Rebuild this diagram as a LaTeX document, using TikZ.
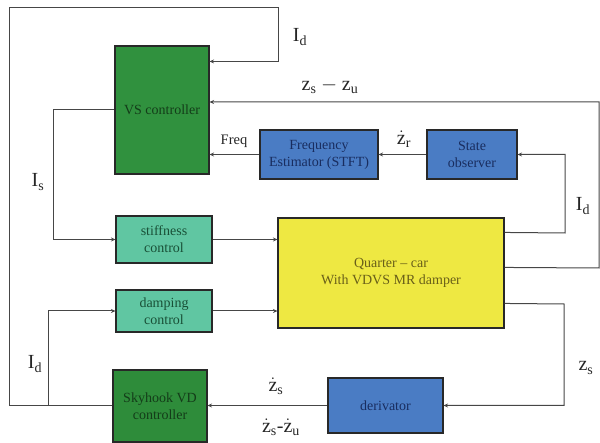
\documentclass[tikz,border=0pt]{standalone}
\usepackage{fontspec}
\setmainfont{Liberation Serif}
\usetikzlibrary{arrows.meta,calc}
\definecolor{vsgreen}{RGB}{48,145,62}
\definecolor{skygreen}{RGB}{46,140,58}
\definecolor{estblue}{RGB}{74,124,196}
\definecolor{ctrlteal}{RGB}{96,198,162}
\definecolor{qyellow}{RGB}{238,232,66}
\definecolor{linegray}{RGB}{70,70,70}
\definecolor{edgegray}{RGB}{40,40,40}
\definecolor{gtext}{RGB}{20,60,25}
\definecolor{btext}{RGB}{25,45,95}
\definecolor{ttext}{RGB}{25,80,55}
\definecolor{ytext}{RGB}{105,95,25}
\tikzset{
  blk/.style={draw=edgegray, line width=1.1pt, align=center, inner sep=2pt,
    font=\fontsize{14}{17}\selectfont},
  greenblk/.style={blk, fill=vsgreen, text=gtext},
  blueblk/.style={blk, fill=estblue, text=btext},
  tealblk/.style={blk, fill=ctrlteal, text=ttext},
  yellowblk/.style={blk, fill=qyellow, text=ytext},
  conn/.style={draw=linegray, line width=1pt},
  arr/.style={conn, -{Stealth[length=4.5pt,width=4pt]}},
  lbl/.style={font=\fontsize{20}{22}\selectfont, text=black!85},
}
\begin{document}
\begin{tikzpicture}[x=1pt,y=-1pt]
\useasboundingbox (0,0) rectangle (600,443);
% blocks
\node[greenblk, minimum width=94pt, minimum height=128pt] (vs) at (162,110) {VS controller};
\node[blueblk, minimum width=118pt, minimum height=49pt] (freq) at (319,154.5) {Frequency\\Estimator (STFT)};
\node[blueblk, minimum width=90pt, minimum height=49pt] (state) at (472,154.5) {State\\observer};
\node[tealblk, minimum width=96pt, minimum height=47pt] (stiff) at (164,239.5) {stiffness\\control};
\node[tealblk, minimum width=96pt, minimum height=42pt] (damp) at (164,311) {damping\\control};
\node[yellowblk, minimum width=226pt, minimum height=110pt] (q) at (391,273) {Quarter \textendash\ car\\With VDVS MR damper};
\node[blueblk, minimum width=115pt, minimum height=55pt] (der) at (385.5,405.5) {derivator};
\node[greenblk, fill=skygreen, minimum width=94pt, minimum height=72pt] (sky) at (160,406) {Skyhook VD\\controller};
% helper coordinates
\coordinate (tl) at (9,8);
\coordinate (tr) at (278,8);
\coordinate (jd) at (48,406);
\coordinate (js) at (53,110);
\coordinate (rr) at (599,102);
\coordinate (rq) at (599,268);
\coordinate (ri) at (565,233);
\coordinate (rz) at (564,304);
% connectors
\draw[arr] (sky.west) -| (tl) -- (tr) |- ($(vs.north east)+(0,16)$);
\draw[arr] (jd) |- (damp.west);
\draw[arr] (vs.west) -- (js) |- (stiff.west);
\draw[arr] (stiff.east) -- (stiff.east -| q.west);
\draw[arr] (damp.east) -- (damp.east -| q.west);
\draw[arr] ($(q.north east)+(0,50)$) -- (rq) -- (rr) -- (rr -| vs.east);
\draw[arr] ($(q.north east)+(0,15)$) -- (ri) |- (state.east);
\draw[arr] ($(q.north east)+(0,86)$) -- (rz) |- (der.east);
\draw[arr] (der.west) -- (der.west -| sky.east);
\draw[arr] (state.west) -- (freq.east);
\draw[arr] (freq.west) -- (freq.west -| vs.east);
% labels
\node[lbl] (l1) at (300,37) {$\mathrm{I_d}$};
\node[lbl] (l2) at (330,86) {$\mathrm{z_s - z_u}$};
\node[lbl, font=\fontsize{14.5}{16}\selectfont] (l3) at (234,141) {Freq};
\node[lbl] (l4) at (404,139) {$\dot{\mathrm{z}}_{\mathrm{r}}$};
\node[lbl] (l5) at (583,206) {$\mathrm{I_d}$};
\node[lbl] (l6) at (38,182) {$\mathrm{I_s}$};
\node[lbl] (l7) at (35,364) {$\mathrm{I_d}$};
\node[lbl] (l8) at (586,368) {$\mathrm{z_s}$};
\node[lbl] (l9) at (276,386) {$\dot{\mathrm{z}}_{\mathrm{s}}$};
\node[lbl] (l10) at (281,427) {$\dot{\mathrm{z}}_{\mathrm{s}}\mbox{-}\dot{\mathrm{z}}_{\mathrm{u}}$};
\end{tikzpicture}
\end{document}
